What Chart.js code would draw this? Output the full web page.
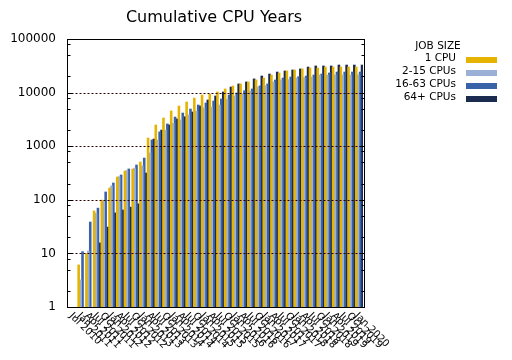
<!DOCTYPE html>
<html><head><meta charset="utf-8">
<script src="https://cdn.jsdelivr.net/npm/chart.js@4.4.1/dist/chart.umd.min.js"></script>
<style>html,body{margin:0;padding:0;background:#fff}#wrap{width:512px;height:360px;position:relative}</style>
</head><body><div id="wrap"><canvas id="c" width="512" height="360"></canvas></div>
<script>
const chartTitle = 'Cumulative CPU Years';
const legendTitle = 'JOB SIZE';
const seriesNames = ['1 CPU', '2-15 CPUs', '16-63 CPUs', '64+ CPUs'];
const categories = ['Jul 2010','Jan 2011','Apr 2011','Jul 2011','Oct 2011','Jan 2012','Apr 2012','Jul 2012','Oct 2012',
  'Jan 2013','Apr 2013','Jul 2013','Oct 2013','Jan 2014','Apr 2014','Jul 2014','Oct 2014','Jan 2015','Apr 2015','Jul 2015','Oct 2015',
  'Jan 2016','Apr 2016','Jul 2016','Oct 2016','Jan 2017','Apr 2017','Jul 2017','Oct 2017','Jan 2018','Apr 2018','Jul 2018','Oct 2018',
  'Jan 2019','Apr 2019','Jul 2019','Oct 2019','Jan 2020'];
const cpu1 = [null, 6.1, 10, 62, 99, 166, 266, 345, 376, 508, 1420, 2490, 3360, 4540, 5620, 6680, 7900, 9000, 9400, 10300,
  11700, 13300, 14500, 15800, 17200, 18700, 21300, 23200, 25300, 26400, 27600, 28800, 28800, 30000, 30000, 30000, 30000, 30000];
const cpu2to15 = [null, 3.2, 11.1, 56, 95, 182, 270, 350, 390, 430, 750, 1300, 2000, 2670, 3080, 3820, 4540, 5160, 5380, 5870,
  7500, 8650, 9500, 10700, 12700, 13500, 15800, 17200, 17500, 18700, 19000, 19500, 21300, 21300, 21300, 21300, 21300, 21500];
const cpu16to63 = [null, 10.8, 38.5, 70, 140, 206, 290, 376, 446, 602, 1306, 1850, 2600, 3500, 4160, 4940, 5870, 6400, 6970, 7600,
  9000, 9840, 10840, 11700, 13300, 14500, 17200, 18700, 19500, 19800, 20400, 21300, 22200, 23200, 24200, 24200, 24200, 24200];
const cpu64plus = [null, null, null, 15.7, 31, 57, 64.5, 73, 84, 316, 1360, 2000, 2490, 3220, 3550, 4350, 5620, 7280, 8650, 10260,
  12700, 14500, 15800, 18000, 20400, 22200, 24200, 25300, 26400, 27600, 30000, 31400, 31400, 31400, 32700, 32700, 32700, 32700];
const yMajorTicks = [1, 10, 100, 1000, 10000, 100000];
const yMinorTicks = [2, 5, 8, 20, 50, 80, 200, 500, 800, 2000, 5000, 8000, 20000, 50000, 80000];
const seriesColors = ['#e6b400', '#9ab0d6', '#3a62a8', '#1a2b4f'];
const gridColor = '#2a0000';
const FONT = "'DejaVu Sans', sans-serif";

const deco = {
  id: 'deco',
  afterDatasetsDraw(chart) {
    const {ctx, chartArea: a, scales: {x, y}} = chart;
    const L = Math.round(a.left) - 3 + 0.5;
    const R = Math.round(a.right) + 1 + 0.5;
    const T = Math.round(a.top) + 0.5;
    const B = Math.round(a.bottom) + 0.5;
    ctx.save();
    ctx.strokeStyle = gridColor; ctx.lineWidth = 1; ctx.setLineDash([2, 2]);
    for (const v of yMajorTicks) {
      if (v <= y.min || v >= y.max) continue;
      const py = Math.round(y.getPixelForValue(v)) + 0.5;
      ctx.beginPath(); ctx.moveTo(L, py); ctx.lineTo(R, py); ctx.stroke();
    }
    ctx.setLineDash([]);
    ctx.strokeStyle = '#000';
    for (const t of y.ticks) {
      const py = Math.round(y.getPixelForValue(t.value)) + 0.5;
      const len = yMajorTicks.includes(t.value) ? 5 : 3;
      ctx.beginPath(); ctx.moveTo(L, py); ctx.lineTo(L + len, py); ctx.moveTo(R, py); ctx.lineTo(R - len, py); ctx.stroke();
    }
    ctx.lineWidth = 1;
    ctx.strokeRect(L, T, R - L, B - T);
    ctx.fillStyle = '#000';
    ctx.font = '10px ' + FONT;
    ctx.textAlign = 'left'; ctx.textBaseline = 'middle';
    categories.forEach((lab, i) => {
      const px = x.getPixelForValue(i);
      ctx.save();
      ctx.translate(px - 3, B + 7);
      ctx.rotate(Math.PI / 4);
      ctx.fillText(lab, 0, 0);
      ctx.restore();
    });
    ctx.font = '16px ' + FONT;
    ctx.textAlign = 'center';
    ctx.fillText(chartTitle, 214, 18);
    ctx.font = '10.5px ' + FONT;
    ctx.fillText(legendTitle, 438, 46);
    ctx.textAlign = 'right';
    chart.data.datasets.forEach((ds, i) => {
      const cy = 58.5 + 13 * i;
      ctx.fillStyle = '#000';
      ctx.fillText(ds.label, 456, cy);
      ctx.fillStyle = ds.backgroundColor;
      ctx.fillRect(466, Math.round(cy) - 2, 31, 6);
    });
    ctx.restore();
  }
};

const seriesData = [cpu1, cpu2to15, cpu16to63, cpu64plus];
new Chart(document.getElementById('c'), {
  type: 'bar',
  data: {
    labels: categories,
    datasets: seriesNames.map((n, i) => ({
      label: n, data: seriesData[i], backgroundColor: seriesColors[i], borderWidth: 0,
      barPercentage: 1.0, categoryPercentage: 1.0
    }))
  },
  options: {
    responsive: false, animation: false,
    layout: {padding: {left: 0, right: 149, top: 39, bottom: 0}},
    plugins: {legend: {display: false}, title: {display: false}, tooltip: {enabled: false}},
    scales: {
      x: {
        type: 'category', offset: true,
        grid: {display: false, drawTicks: false}, border: {display: false},
        ticks: {display: false},
        afterFit(s) { s.height = 53; }
      },
      y: {
        type: 'logarithmic', min: 1, max: 100000,
        grid: {display: false, drawTicks: false}, border: {display: false},
        afterBuildTicks(s) {
          s.ticks = yMajorTicks.concat(yMinorTicks).sort((a, b) => a - b).map(v => ({value: v, major: yMajorTicks.includes(v)}));
        },
        afterFit(s) { s.width = 70; },
        ticks: {
          autoSkip: false, padding: 14, color: '#000',
          font: {family: FONT, size: 12},
          callback(v) { return yMajorTicks.includes(v) ? String(v) : ''; }
        }
      }
    }
  },
  plugins: [deco]
});
</script></body></html>
